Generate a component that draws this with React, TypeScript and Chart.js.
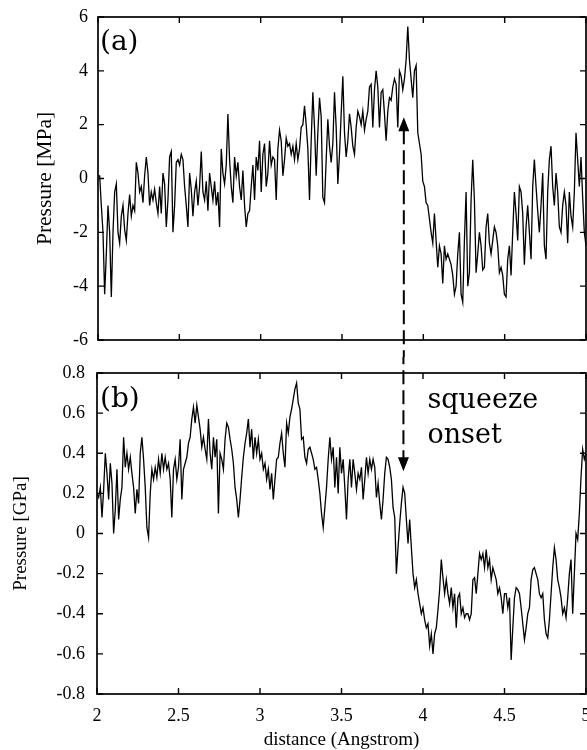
import React, { useEffect, useRef } from 'react';
import { Chart, registerables } from 'chart.js';

Chart.register(...registerables);

// ---- axis domain and ticks ----
const X_MIN = 2;
const X_MAX = 5;
const X_TICKS = [2, 2.5, 3, 3.5, 4, 4.5, 5];
const A_Y_TICKS = [-6, -4, -2, 0, 2, 4, 6];
const B_Y_TICKS = [-0.8, -0.6, -0.4, -0.2, 0, 0.2, 0.4, 0.6, 0.8];

// ---- panel (a): pressure in MPa, sampled evenly from x = 2 to x = 5 ----
const PANEL_A_MPA = [
  0.1,
  0.1, -1.0, -2.0, -4.3, -2.8, -1.0, -2.0, -4.4, -2.0, -0.5, -0.2, -2.0, -2.4, -1.4, -1.0, -1.9, -2.3, -1.3, -0.6, -1.4, -1.0, -1.2, 0.6,
  0.2, -0.5, -0.3, -0.9, 0.1, 0.8, 0.2, -1.0, -0.5, -0.8,
  -0.4, -0.9, -1.3, -0.3, -1.3, 0.2, -0.2, -1.8, -0.8, 0.8,
  1.0, -2.0, -1.0, 0.6, 0.7, 0.5, 0.9, 0.7, -0.3, -1.0,
  -1.8, 0.2, -0.4, -1.4, -0.5, -0.1, -1.0, -0.3, 1.0, -0.5,
  -0.8, -0.1, -1.2, 0.2, -0.3, -0.8, -0.1, -1.0, -0.5, -1.8,
  1.1, 0.2, -0.2, 0.5, 2.4, 0.7, -0.3, -0.9, 0.8, 0.1,
  0.6, -0.3, -0.8, 0.3, -1.0, -1.8, -1.3, -1.2, -0.3, 0.5,
  -0.8, 0.8, 0.3, 1.4, -0.5, 0.9, 1.3, -0.3, 0.2, 1.4,
  0.5, 0.8, 0.7, -0.8, 1.1, 1.8, 1.4, 0.1, 0.7, 1.5,
  1.2, 1.3, 0.9, 1.2, 0.7, 1.3, 0.7, 1.1,
  1.9, 2.0, 2.7, 2.0, 1.1, -0.8, 1.4, 3.2, 1.9, 0.1,
  1.7, 3.0, 2.3, -0.7, -0.9, 0.7, 2.2, 1.2, 0.6, 1.3,
  3.2, 1.9, -0.2, 0.9, 2.4, 3.8, 1.7, 0.8, 1.4, 2.4,
  1.9, 1.2, 0.9, 1.9, 2.5, 2.3, 2.0, 2.5, 1.8, 2.2,
  2.5, 3.4, 3.5, 1.9, 3.3, 4.0, 3.4, 1.9, 3.2, 3.3,
  2.4, 1.4, 2.5, 3.0, 2.9, 3.4, 3.7, 3.5, 1.9, 4.0,
  3.8, 3.3, 3.7, 4.4, 5.65, 4.4, 3.7, 3.0, 4.0, 4.2,
  1.7, 1.3, 0.9, -0.1, -0.3, -0.9, -1.0, -1.5, -2.0, -2.4,
  -1.3, -2.3, -3.3, -2.5, -2.8, -3.9, -2.5, -3.0, -2.8, -3.0,
  -3.2, -3.6, -4.3, -4.0, -2.8, -2.0, -4.3, -4.6, -2.3, -0.5,
  -4.0, -3.5, -0.8, 0.7, -0.8, -3.5, -2.8, -2.0, -2.5, -3.4,
  -3.3, -1.8, -1.3, -2.4, -2.8, -2.3, -1.8, -2.0, -2.5, -3.5,
  -3.3, -3.6, -4.3, -4.4, -3.0, -2.5, -3.6, -2.0, -0.5, -1.3,
  -2.3, -0.3, -0.5, -1.3, -3.2, -1.8, -1.0, -2.0, -3.0, -0.3,
  0.7, -0.3, -1.2, -2.0, -1.0, 0.2, -2.5, -3.0, -0.5, 0.7,
  1.2, -0.3, -1.0, 0.2, -0.5, -1.8, -2.0, -1.0, -0.5, -1.0,
  -2.4, -0.5, -1.4, -1.8, -0.5, 1.7, 0.7, -0.3, 0.8, -0.7,
  -2.0,
  -2.5,
];

// ---- panel (b): pressure in GPa, sampled evenly from x = 2 to x = 5 ----
const PANEL_B_GPA = [
  0.2,
  0.18, 0.23, 0.08, 0.22, 0.40, 0.30, 0.17, 0.35, 0.25, 0.00,
  0.12, 0.32, 0.07, 0.17, 0.23, 0.48, 0.33, 0.40, 0.32, 0.38,
  0.30, 0.23, 0.10, 0.22, 0.15, 0.40, 0.48, 0.37, 0.23, 0.03,
  -0.02, 0.20, 0.32, 0.27, 0.33, 0.28, 0.37, 0.30, 0.40, 0.32,
  0.38, 0.32, 0.35, 0.27, 0.08, 0.32, 0.37, 0.27, 0.33, 0.47,
  0.17, 0.32, 0.35, 0.38, 0.45, 0.48, 0.57, 0.63, 0.55, 0.64,
  0.58, 0.52, 0.43, 0.48, 0.42, 0.37, 0.57, 0.40, 0.32, 0.48,
  0.38, 0.47, 0.10, 0.40, 0.37, 0.32, 0.47, 0.55, 0.53, 0.47,
  0.42, 0.35, 0.23, 0.17, 0.08, 0.17, 0.28, 0.38, 0.45, 0.50,
  0.57, 0.43, 0.52, 0.37, 0.48, 0.40, 0.47, 0.37, 0.40, 0.32,
  0.35, 0.27, 0.32, 0.22, 0.30, 0.17, 0.27, 0.37, 0.38, 0.45,
  0.50, 0.40, 0.33, 0.55, 0.50, 0.58, 0.62, 0.67, 0.72, 0.75,
  0.65, 0.62,
  0.47, 0.48, 0.38, 0.35, 0.42, 0.43, 0.40, 0.37, 0.32, 0.33,
  0.27, 0.20, 0.10, 0.03, 0.13, 0.23, 0.37, 0.48, 0.37, 0.43,
  0.23, 0.38, 0.20, 0.43, 0.30, 0.37, 0.23, 0.07, 0.27, 0.37,
  0.23, 0.37, 0.30, 0.22, 0.30, 0.27, 0.33, 0.17, 0.27, 0.38,
  0.30, 0.37, 0.32, 0.37, 0.33, 0.18, 0.25, 0.15, 0.07, 0.17,
  0.30, 0.38, 0.37, 0.33, 0.27, 0.13, 0.08, -0.20, -0.07, 0.05,
  0.15, 0.23, 0.20, 0.07, -0.05, 0.07, -0.07, -0.20, -0.27, -0.23,
  -0.30, -0.35, -0.40, -0.37, -0.43, -0.47, -0.45, -0.56, -0.50, -0.60,
  -0.50, -0.47, -0.38, -0.28, -0.13, -0.22, -0.30, -0.23, -0.30, -0.35,
  -0.27, -0.37, -0.30, -0.47, -0.32, -0.30, -0.40, -0.37, -0.42, -0.40,
  -0.40, -0.43, -0.40, -0.23, -0.22, -0.30, -0.20, -0.10, -0.13, -0.10,
  -0.17, -0.08, -0.17, -0.13, -0.23, -0.17, -0.20, -0.23, -0.30, -0.27,
  -0.32, -0.40, -0.30, -0.30, -0.37, -0.32, -0.63, -0.47, -0.32, -0.27,
  -0.28, -0.30, -0.37, -0.45, -0.53, -0.47, -0.40, -0.37, -0.23, -0.18,
  -0.17, -0.20, -0.23, -0.30, -0.32, -0.30, -0.43, -0.50, -0.52, -0.43,
  -0.30, -0.17, -0.07, -0.13, -0.23, -0.27, -0.32, -0.40, -0.37, -0.42,
  -0.32, -0.20, -0.13, -0.40, -0.20, 0.00, -0.03, 0.10, 0.28, 0.42,
  0.37,
  0.40,
];

// ---- annotation ("squeeze onset" arrow) ----
const ARROW_X = 3.88;
const ARROW_TIP_A = 2.28; // MPa, arrow points up in panel (a)
const ARROW_TIP_B = 0.31; // GPa, arrow points down in panel (b)
const PANEL_A_LABEL = '(a)';
const PANEL_B_LABEL = '(b)';
const NOTE_LINES = ['squeeze', 'onset'];

const SERIF = "'Liberation Serif', 'Times New Roman', serif";
const LABEL_FONT = "'DejaVu Serif', serif";
const DASH = [14, 6];

const toPoints = (ys: number[]) =>
  ys.map((y, i) => ({ x: X_MIN + ((X_MAX - X_MIN) * i) / (ys.length - 1), y }));

const plainNumber = (v: any) => String(Math.round(Number(v) * 1000) / 1000);

let dashPhase = 0;

function framePlugin(yTicks: number[]) {
  return {
    id: 'frameTicks',
    afterDraw(chart: any) {
      const { ctx, chartArea } = chart;
      const { left, right, top, bottom } = chartArea;
      const xs = chart.scales.x;
      const ys = chart.scales.y;
      const L = 6;
      ctx.save();
      ctx.strokeStyle = '#000';
      ctx.lineWidth = 1.7;
      ctx.strokeRect(left, top, right - left, bottom - top);
      ctx.lineWidth = 1.4;
      ctx.beginPath();
      X_TICKS.forEach((v) => {
        const p = xs.getPixelForValue(v);
        ctx.moveTo(p, bottom);
        ctx.lineTo(p, bottom - L);
        ctx.moveTo(p, top);
        ctx.lineTo(p, top + L);
      });
      yTicks.forEach((v) => {
        const p = ys.getPixelForValue(v);
        ctx.moveTo(left, p);
        ctx.lineTo(left + L, p);
        ctx.moveTo(right, p);
        ctx.lineTo(right - L, p);
      });
      ctx.stroke();
      ctx.restore();
    },
  };
}

const annotateA = {
  id: 'annotateA',
  afterDraw(chart: any) {
    const { ctx, chartArea } = chart;
    const x = chart.scales.x.getPixelForValue(ARROW_X);
    const tip = chart.scales.y.getPixelForValue(ARROW_TIP_A);
    const headH = 14;
    const headW = 5.5;
    ctx.save();
    ctx.fillStyle = '#000';
    ctx.font = `28px ${LABEL_FONT}`;
    ctx.textBaseline = 'alphabetic';
    ctx.textAlign = 'left';
    ctx.fillText(PANEL_A_LABEL, chartArea.left + 2, chartArea.top + 33);
    ctx.strokeStyle = '#000';
    ctx.lineWidth = 2;
    ctx.setLineDash(DASH);
    ctx.beginPath();
    ctx.moveTo(x, tip + headH - 1);
    ctx.lineTo(x, chart.height);
    ctx.stroke();
    dashPhase = (chart.height - (tip + headH - 1)) % (DASH[0] + DASH[1]);
    ctx.setLineDash([]);
    ctx.beginPath();
    ctx.moveTo(x, tip);
    ctx.lineTo(x - headW, tip + headH);
    ctx.lineTo(x + headW, tip + headH);
    ctx.closePath();
    ctx.fill();
    ctx.restore();
  },
};

const annotateB = {
  id: 'annotateB',
  afterDraw(chart: any) {
    const { ctx, chartArea } = chart;
    const x = chart.scales.x.getPixelForValue(ARROW_X);
    const tip = chart.scales.y.getPixelForValue(ARROW_TIP_B);
    const headH = 14;
    const headW = 5.5;
    ctx.save();
    ctx.fillStyle = '#000';
    ctx.font = `28px ${LABEL_FONT}`;
    ctx.textBaseline = 'alphabetic';
    ctx.textAlign = 'left';
    ctx.fillText(PANEL_B_LABEL, chartArea.left + 3, chartArea.top + 34);
    ctx.font = `27px ${LABEL_FONT}`;
    ctx.fillText(NOTE_LINES[0], x + 24, chartArea.top + 35);
    ctx.fillText(NOTE_LINES[1], x + 24, chartArea.top + 70);
    ctx.strokeStyle = '#000';
    ctx.lineWidth = 2;
    ctx.setLineDash(DASH);
    ctx.lineDashOffset = dashPhase;
    ctx.beginPath();
    ctx.moveTo(x, 0);
    ctx.lineTo(x, tip - headH + 1);
    ctx.stroke();
    ctx.setLineDash([]);
    ctx.beginPath();
    ctx.moveTo(x, tip);
    ctx.lineTo(x - headW, tip - headH);
    ctx.lineTo(x + headW, tip - headH);
    ctx.closePath();
    ctx.fill();
    ctx.restore();
  },
};

function baseDataset(ys: number[]) {
  return {
    data: toPoints(ys),
    borderColor: '#000',
    borderWidth: 1.3,
    pointRadius: 0,
    pointHoverRadius: 0,
    tension: 0,
    fill: false,
  };
}

export default function App() {
  const topRef = useRef<HTMLCanvasElement | null>(null);
  const botRef = useRef<HTMLCanvasElement | null>(null);

  useEffect(() => {
    if (!topRef.current || !botRef.current) return;

    const top = new Chart(topRef.current, {
      type: 'line',
      data: { datasets: [baseDataset(PANEL_A_MPA) as any] },
      options: {
        animation: false,
        responsive: false,
        devicePixelRatio: 1,
        layout: { padding: { left: 0, right: 1, top: 17, bottom: 0 } },
        plugins: { legend: { display: false }, tooltip: { enabled: false } },
        scales: {
          x: {
            type: 'linear',
            min: X_MIN,
            max: X_MAX,
            grid: { display: false, drawTicks: false },
            border: { display: false },
            ticks: { display: false, stepSize: 0.5 },
            afterFit: (s: any) => {
              s.height = 17;
              s.paddingLeft = 0;
              s.paddingRight = 0;
            },
          },
          y: {
            type: 'linear',
            min: -6,
            max: 6,
            grid: { display: false, drawTicks: false },
            border: { display: false },
            ticks: {
              stepSize: 2,
              padding: 10,
              color: '#000',
              font: { family: SERIF, size: 18 },
              callback: plainNumber,
            },
            title: {
              display: true,
              text: 'Pressure [MPa]',
              color: '#000',
              font: { family: SERIF, size: 21.5, lineHeight: 1 },
              padding: { top: 34.5, bottom: 0 },
            },
            afterFit: (s: any) => {
              s.width = 98;
              s.paddingTop = 0;
              s.paddingBottom = 0;
            },
          },
        },
      } as any,
      plugins: [framePlugin(A_Y_TICKS), annotateA],
    });

    const bot = new Chart(botRef.current, {
      type: 'line',
      data: { datasets: [baseDataset(PANEL_B_GPA) as any] },
      options: {
        animation: false,
        responsive: false,
        devicePixelRatio: 1,
        layout: { padding: { left: 0, right: 1, top: 16, bottom: 0 } },
        plugins: { legend: { display: false }, tooltip: { enabled: false } },
        scales: {
          x: {
            type: 'linear',
            min: X_MIN,
            max: X_MAX,
            grid: { display: false, drawTicks: false },
            border: { display: false },
            ticks: {
              stepSize: 0.5,
              padding: 11,
              color: '#000',
              maxRotation: 0,
              autoSkip: false,
              font: { family: SERIF, size: 18 },
              callback: plainNumber,
            },
            title: {
              display: true,
              text: 'distance (Angstrom)',
              color: '#000',
              font: { family: SERIF, size: 19, lineHeight: 1 },
              padding: { top: 0, bottom: 0 },
            },
            afterFit: (s: any) => {
              s.height = 56;
              s.paddingLeft = 0;
              s.paddingRight = 0;
            },
          },
          y: {
            type: 'linear',
            min: -0.8,
            max: 0.8,
            grid: { display: false, drawTicks: false },
            border: { display: false },
            ticks: {
              stepSize: 0.2,
              padding: 12,
              color: '#000',
              font: { family: SERIF, size: 18 },
              callback: plainNumber,
            },
            title: {
              display: true,
              text: 'Pressure [GPa]',
              color: '#000',
              font: { family: SERIF, size: 19, lineHeight: 1 },
              padding: { top: 11.5, bottom: 0 },
            },
            afterFit: (s: any) => {
              s.width = 97;
              s.paddingTop = 0;
              s.paddingBottom = 0;
            },
          },
        },
      } as any,
      plugins: [framePlugin(B_Y_TICKS), annotateB],
    });

    return () => {
      top.destroy();
      bot.destroy();
    };
  }, []);

  return (
    <div
      style={{
        position: 'absolute',
        left: 0,
        top: 0,
        width: 587,
        height: 750,
        background: '#fff',
        overflow: 'hidden',
      }}
    >
      <canvas ref={topRef} width={587} height={357} style={{ display: 'block' }} />
      <canvas ref={botRef} width={587} height={393} style={{ display: 'block' }} />
    </div>
  );
}
